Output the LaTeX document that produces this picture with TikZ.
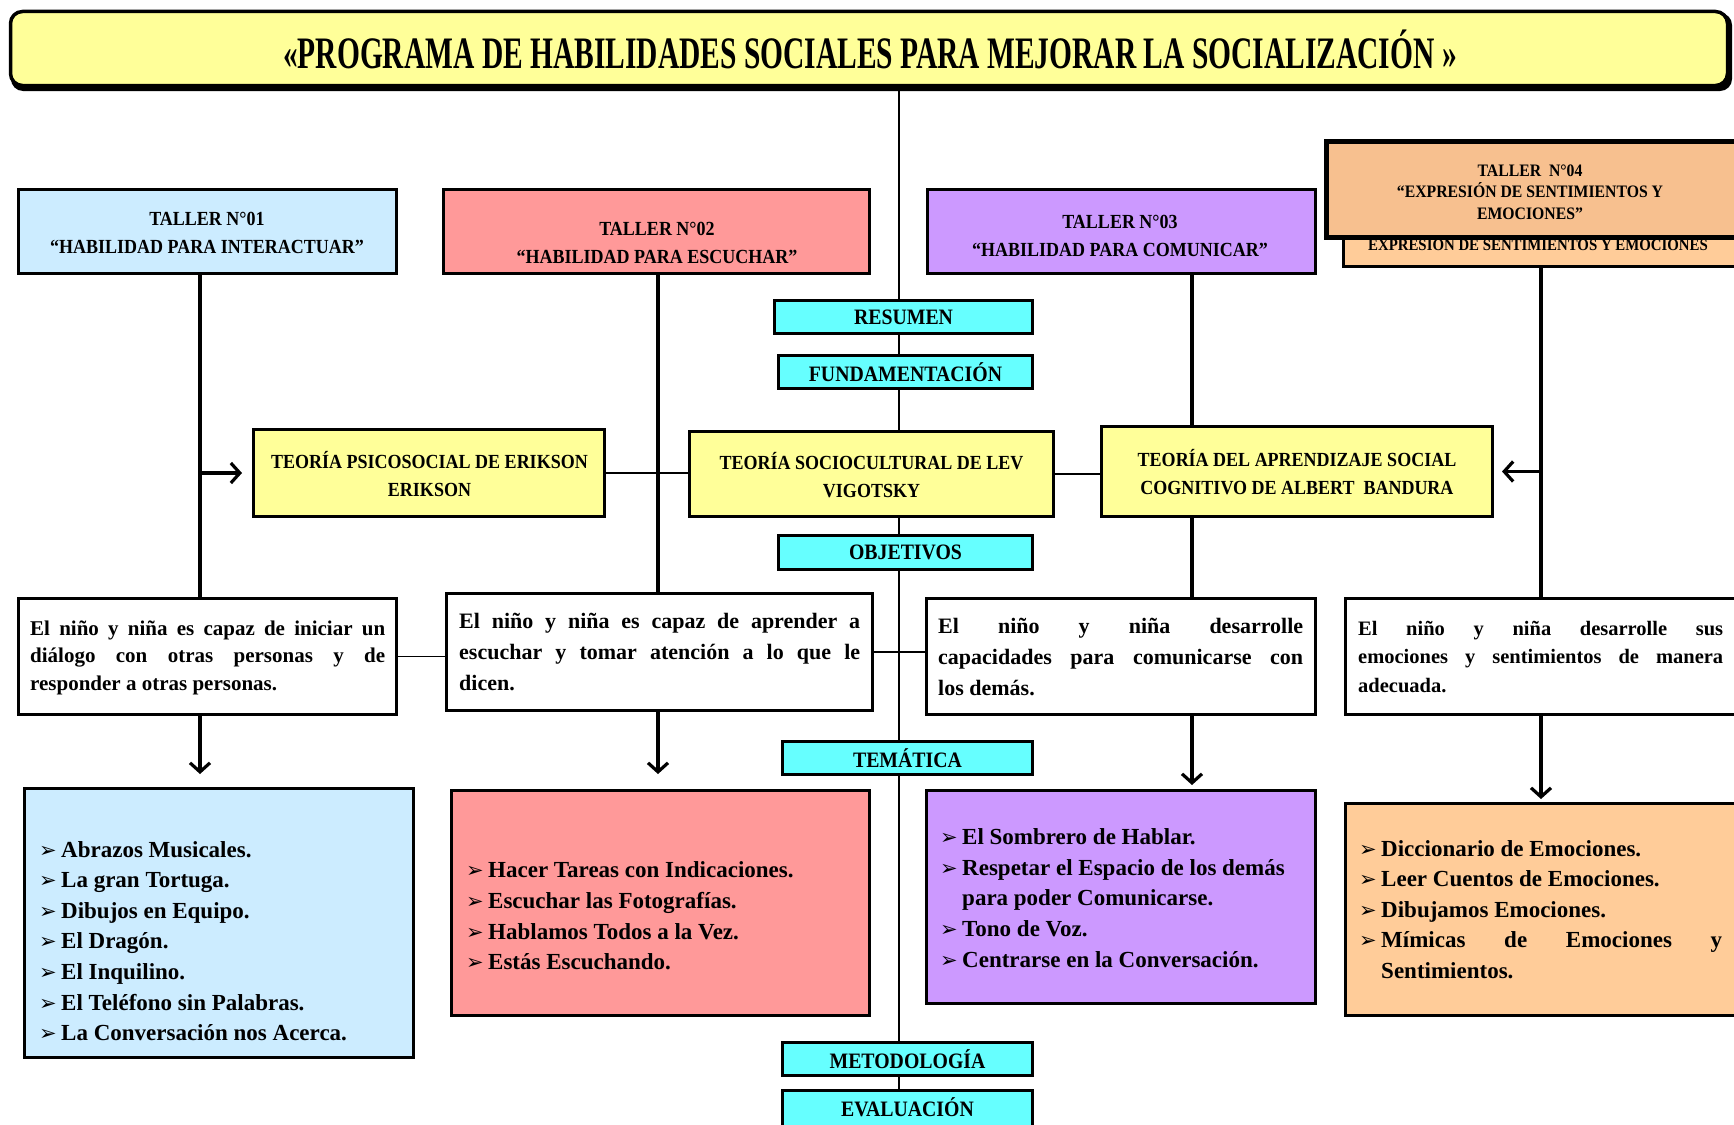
\documentclass[tikz,border=0pt]{standalone}
\usepackage{fontspec}
\setmainfont{Liberation Serif}
\newfontfamily\capsf{Liberation Serif}[FakeStretch=0.9]
\newfontfamily\titlef{Liberation Serif}[FakeStretch=0.655]
\newfontfamily\dejavu{DejaVu Sans}
\usetikzlibrary{arrows.meta}
\definecolor{ttlyel}{HTML}{FFFF99}
\definecolor{blueb}{HTML}{CCECFF}
\definecolor{pinkb}{HTML}{FF9999}
\definecolor{purpb}{HTML}{CC99FF}
\definecolor{orab}{HTML}{FFCC99}
\definecolor{orafront}{HTML}{F7C08F}
\definecolor{cyanbox}{HTML}{66FFFF}
\newcommand\blt{\makebox[22pt][l]{\dejavu\fontsize{21}{21}\selectfont ➢}}
\begin{document}
\begin{tikzpicture}[x=1pt,y=-1pt,
  box/.style={draw=black,line width=3pt,inner sep=0pt},
  cy/.style={box,fill=cyanbox,line width=3.5pt,font=\capsf\bfseries\fontsize{22}{24}\selectfont},
  hd/.style={inner sep=0pt,align=center,font=\capsf\bfseries\fontsize{20}{28}\selectfont},
  body/.style={inner sep=0pt,align=left,anchor=west},
  thinc/.style={line width=1.8pt},
  thickc/.style={line width=3.2pt},
  arr/.style={-{Straight Barb[length=9pt,width=20pt]}}]
\fill[white] (0,0) rectangle (1734,1124);
\useasboundingbox (0,0) rectangle (1734,1124);

% title
\fill[black,rounded corners=12pt] (11,13) rectangle (1732,91);
\node[box,line width=3.5pt,rounded corners=12pt,fill=ttlyel,minimum width=1717pt,minimum height=74pt] (title) at (869,48.5) {};
\node[inner sep=0pt,font=\titlef\bfseries\fontsize{45}{50}\selectfont] (titlet) at (870,49) {«PROGRAMA DE HABILIDADES SOCIALES PARA MEJORAR LA SOCIALIZACIÓN\,»};

% coordinates for vertical connectors
\coordinate (tk) at (899,1124);
\coordinate (c1) at (200,0);
\coordinate (c2) at (658,0);
\coordinate (c3) at (1192,0);
\coordinate (c4) at (1541,0);

% trunk
\draw[thinc] (title.south -| tk) -- (tk);

% boxes
\node[box,fill=blueb,minimum width=378pt,minimum height=84pt] (t1) at (207.5,231.5) {};
\node[box,fill=pinkb,minimum width=426pt,minimum height=84pt] (t2) at (656.5,231.5) {};
\node[box,fill=purpb,minimum width=388pt,minimum height=84pt] (t3) at (1121.5,231.5) {};
\node[box,fill=orab,minimum width=415pt,minimum height=65pt] (t4b) at (1551,234) {};
\node[inner sep=0pt,anchor=base,font=\capsf\bfseries\fontsize{16.5}{18}\selectfont] (t4bt) at (1538,250) {EXPRESIÓN DE SENTIMIENTOS Y EMOCIONES};
\node[box,line width=5pt,fill=orafront,minimum width=432pt,minimum height=96pt] (t4) at (1542.5,189.5) {};

\node[cy,minimum width=258pt,minimum height=33pt] (res) at (903.5,317) {RESUMEN};
\node[cy,minimum width=254pt,minimum height=33pt] (fund) at (905.5,372) {FUNDAMENTACIÓN};
\node[cy,minimum width=254pt,minimum height=34pt] (obj) at (905.5,552.5) {OBJETIVOS};
\node[cy,minimum width=250pt,minimum height=33pt] (tem) at (907.5,758) {TEMÁTICA};
\node[cy,minimum width=250pt,minimum height=33pt] (met) at (907.5,1059) {METODOLOGÍA};
\node[cy,minimum width=250pt,minimum height=43pt,text depth=9pt] (eva) at (907.5,1112) {EVALUACIÓN};

\node[box,fill=ttlyel,minimum width=351pt,minimum height=87pt] (ek) at (429,473) {};
\node[box,fill=ttlyel,minimum width=364pt,minimum height=85pt] (vg) at (871.5,474) {};
\node[box,fill=ttlyel,minimum width=391pt,minimum height=90pt] (bd) at (1297,471.5) {};

\node[box,fill=white,minimum width=378pt,minimum height=116pt] (o1) at (207.5,656.5) {};
\node[box,fill=white,minimum width=426pt,minimum height=117pt] (o2) at (659.5,652) {};
\node[box,fill=white,minimum width=389pt,minimum height=116pt] (o3) at (1121,656.5) {};
\node[box,fill=white,minimum width=413pt,minimum height=116pt] (o4) at (1552,656.5) {};

\node[box,fill=blueb,minimum width=389pt,minimum height=269pt] (b1) at (219,923) {};
\node[box,fill=pinkb,minimum width=418pt,minimum height=225pt] (b2) at (660.5,903) {};
\node[box,fill=purpb,minimum width=389pt,minimum height=213pt] (b3) at (1121,897) {};
\node[box,fill=orab,minimum width=413pt,minimum height=212pt] (b4) at (1552,909.5) {};

% horizontal thin connectors
\draw[thinc] (ek.east) -- (ek.east -| vg.west);
\draw[thinc] (vg.east) -- (vg.east -| bd.west);
\draw[thinc] (o1.east) -- (o1.east -| o2.west);
\draw[thinc] (o2.east) -- (o2.east -| o3.west);

% taller connectors
\draw[thickc] (c1 |- t1.south) -- (c1 |- o1.north);
\draw[thickc,arr,shorten >=10pt] (c1 |- ek.west) -- (ek.west);
\draw[thickc] (c2 |- t2.south) -- (c2 |- o2.north);
\draw[thickc] (c3 |- t3.south) -- (c3 |- bd.north);
\draw[thickc] (c3 |- bd.south) -- (c3 |- o3.north);
\draw[thickc] (c4 |- t4b.south) -- (c4 |- o4.north);
\draw[thickc,arr,shorten >=8pt] (c4 |- bd.east) -- (bd.east);

\draw[thickc,arr,shorten >=13pt] (c1 |- o1.south) -- (c1 |- b1.north);
\draw[thickc,arr,shorten >=15pt] (c2 |- o2.south) -- (c2 |- b2.north);
\draw[thickc,arr,shorten >=4pt] (c3 |- o3.south) -- (c3 |- b3.north);
\draw[thickc,arr,shorten >=3pt] (c4 |- o4.south) -- (c4 |- b4.north);

% header texts
\node[hd] (t1t) at (207,233) {TALLER N°01\\“HABILIDAD PARA INTERACTUAR”};
\node[hd] (t2t) at (657,243) {TALLER N°02\\“HABILIDAD PARA ESCUCHAR”};
\node[hd] (t3t) at (1120,236) {TALLER N°03\\“HABILIDAD PARA COMUNICAR”};
\node[hd,font=\capsf\bfseries\fontsize{17.5}{21.5}\selectfont] (t4t) at (1530,192) {TALLER~~N°04\\“EXPRESIÓN DE SENTIMIENTOS Y\\EMOCIONES”};

\node[hd] (ekt) at (429.5,474) {TEORÍA PSICOSOCIAL DE ERIKSON\\ERIKSON};
\node[hd] (vgt) at (871.5,475.5) {TEORÍA SOCIOCULTURAL DE LEV\\VIGOTSKY};
\node[hd] (bdt) at (1297,472) {TEORÍA DEL APRENDIZAJE SOCIAL\\COGNITIVO DE ALBERT~~BANDURA};

% objective texts
\node[body,font=\bfseries\fontsize{21}{27.5}\selectfont] (o1t) at (30,657.5)
 {\makebox[355pt][s]{El niño y niña es capaz de iniciar un}\\\makebox[355pt][s]{diálogo con otras personas y de}\\responder a otras personas.};
\node[body,font=\bfseries\fontsize{22}{31}\selectfont] (o2t) at (459,652)
 {\makebox[401pt][s]{El niño y niña es capaz de aprender a}\\\makebox[401pt][s]{escuchar y tomar atención a lo que le}\\dicen.};
\node[body,font=\bfseries\fontsize{22}{31}\selectfont] (o3t) at (938,657)
 {\makebox[365pt][s]{El niño y niña desarrolle}\\\makebox[365pt][s]{capacidades para comunicarse con}\\los demás.};
\node[body,font=\bfseries\fontsize{20.5}{28.5}\selectfont] (o4t) at (1358,656.5)
 {\makebox[365pt][s]{El niño y niña desarrolle sus}\\\makebox[365pt][s]{emociones y sentimientos de manera}\\adecuada.};

% list texts
\node[body,font=\bfseries\fontsize{23}{30.6}\selectfont] (b1t) at (39,941)
 {\blt Abrazos Musicales.\\\blt La gran Tortuga.\\\blt Dibujos en Equipo.\\\blt El Dragón.\\\blt El Inquilino.\\\blt El Teléfono sin Palabras.\\\blt La Conversación nos Acerca.};
\node[body,font=\bfseries\fontsize{23}{30.6}\selectfont] (b2t) at (466,916)
 {\blt Hacer Tareas con Indicaciones.\\\blt Escuchar las Fotografías.\\\blt Hablamos Todos a la Vez.\\\blt Estás Escuchando.};
\node[body,font=\bfseries\fontsize{23}{30.6}\selectfont] (b3t) at (940,898)
 {\blt El Sombrero de Hablar.\\\blt Respetar el Espacio de los demás\\\hspace*{22pt}para poder Comunicarse.\\\blt Tono de Voz.\\\blt Centrarse en la Conversación.};
\node[body,font=\bfseries\fontsize{23}{30.6}\selectfont] (b4t) at (1359,909.5)
 {\blt Diccionario de Emociones.\\\blt Leer Cuentos de Emociones.\\\blt Dibujamos Emociones.\\\blt\makebox[341pt][s]{Mímicas de Emociones y}\\\hspace*{22pt}Sentimientos.};
\end{tikzpicture}
\end{document}
